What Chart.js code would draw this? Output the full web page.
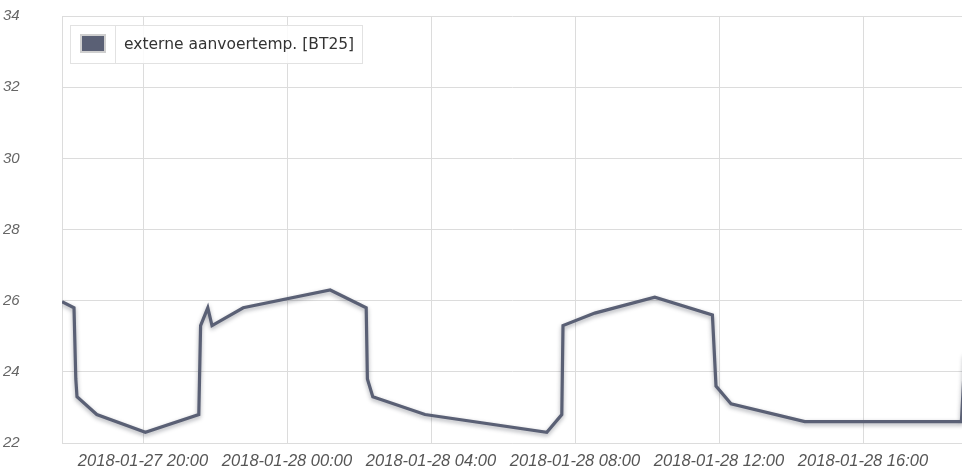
<!DOCTYPE html>
<html>
<head>
<meta charset="utf-8">
<script src="https://cdn.jsdelivr.net/npm/chart.js@4.4.0/dist/chart.umd.min.js"></script>
<style>
  html, body { margin: 0; padding: 0; background: #fff; }
  #wrap { width: 962px; height: 474px; position: relative; }
</style>
</head>
<body>
<div id="wrap"><canvas id="myChart"></canvas></div>
<script>
var seriesLabel = 'externe aanvoertemp. [BT25]';

// sample times and readings
var times = [
  '2018-01-27 17:45', '2018-01-27 18:05', '2018-01-27 18:08', '2018-01-27 18:10',
  '2018-01-27 18:43', '2018-01-27 20:04', '2018-01-27 21:33', '2018-01-27 21:36',
  '2018-01-27 21:48', '2018-01-27 21:55', '2018-01-27 22:47', '2018-01-28 01:12',
  '2018-01-28 02:12', '2018-01-28 02:14', '2018-01-28 02:23', '2018-01-28 03:50',
  '2018-01-28 07:13', '2018-01-28 07:38', '2018-01-28 07:40', '2018-01-28 08:33',
  '2018-01-28 10:13', '2018-01-28 11:49', '2018-01-28 11:55', '2018-01-28 12:20',
  '2018-01-28 14:23', '2018-01-28 18:44', '2018-01-28 18:50'
];
var values = [
  25.97, 25.8, 23.8, 23.3,
  22.8, 22.3, 22.8, 25.3,
  25.8, 25.3, 25.8, 26.3,
  25.8, 23.8, 23.3, 22.8,
  22.3, 22.8, 25.3, 25.65,
  26.1, 25.6, 23.6, 23.1,
  22.6, 22.6, 24.5
];

var xTickLabels = ['2018-01-27 20:00', '2018-01-28 00:00', '2018-01-28 04:00',
  '2018-01-28 08:00', '2018-01-28 12:00', '2018-01-28 16:00'];
var yTickValues = [22, 24, 26, 28, 30, 32, 34];
var xStart = '2018-01-27 17:45';
var xEnd = '2018-01-28 18:45';

// hours since 2018-01-27 00:00
function toHours(s) {
  var day = parseInt(s.slice(8, 10), 10) - 27;
  return day * 24 + parseInt(s.slice(11, 13), 10) + parseInt(s.slice(14, 16), 10) / 60;
}

var points = times.map(function (t, i) { return { x: toHours(t), y: values[i] }; });
var labelAt = {};
xTickLabels.forEach(function (l) { labelAt[toHours(l)] = l; });

var lineShadow = {
  id: 'lineShadow',
  beforeDatasetDraw: function (chart) {
    var c = chart.ctx;
    c.save();
    c.shadowColor = 'rgba(40, 45, 60, 0.4)';
    c.shadowBlur = 4;
    c.shadowOffsetY = 2;
  },
  afterDatasetDraw: function (chart) {
    chart.ctx.restore();
  }
};

// legend boxes drawn inside the plot area
var boxLegend = {
  id: 'boxLegend',
  afterDraw: function (chart) {
    var c = chart.ctx;
    var ds = chart.data.datasets[0];
    c.save();
    c.fillStyle = 'rgba(255,255,255,0.85)';
    c.fillRect(71, 26, 291, 37);
    c.strokeStyle = '#e2e2e2';
    c.lineWidth = 1;
    c.strokeRect(70.5, 25.5, 45, 38);
    c.strokeRect(115.5, 25.5, 247, 38);
    c.fillStyle = ds.borderColor;
    c.fillRect(81, 35, 24, 17);
    c.strokeStyle = '#cfcfcf';
    c.lineWidth = 2;
    c.strokeRect(81, 35, 24, 17);
    c.fillStyle = '#333';
    c.font = '15.5px "DejaVu Sans"';
    c.textBaseline = 'middle';
    c.fillText(ds.label, 124, 45);
    c.restore();
  }
};

var ctx = document.getElementById('myChart').getContext('2d');
var chart = new Chart(ctx, {
  type: 'line',
  data: {
    datasets: [
      {
        label: seriesLabel,
        data: points,
        borderColor: '#5a6075',
        borderWidth: 3.2,
        pointRadius: 0,
        tension: 0,
        fill: false
      }
    ]
  },
  options: {
    responsive: true,
    maintainAspectRatio: false,
    animation: false,
    layout: {
      padding: { left: 3, top: 16, right: 0, bottom: 0 }
    },
    plugins: {
      legend: { display: false },
      tooltip: { enabled: false }
    },
    scales: {
      x: {
        type: 'linear',
        min: toHours(xStart),
        max: toHours(xEnd),
        afterBuildTicks: function (s) {
          s.ticks = xTickLabels.map(function (l) { return { value: toHours(l) }; });
        },
        afterFit: function (s) { s.height = 31; },
        ticks: {
          autoSkip: false,
          maxRotation: 0,
          padding: 9,
          color: '#555',
          font: { family: "'Liberation Sans', Arial, sans-serif", size: 16.5, style: 'italic' },
          callback: function (v) { return labelAt[v] || ''; }
        },
        grid: { color: '#dcdcdc', drawTicks: false },
        border: { color: '#dcdcdc' }
      },
      y: {
        min: 22,
        max: 34,
        afterBuildTicks: function (s) {
          s.ticks = yTickValues.map(function (v) { return { value: v }; });
        },
        afterFit: function (s) { s.width = 59; },
        ticks: {
          crossAlign: 'far',
          color: '#666',
          font: { family: "'Liberation Sans', Arial, sans-serif", size: 15, style: 'italic' }
        },
        grid: { color: '#dcdcdc', drawTicks: false },
        border: { color: '#dcdcdc' }
      }
    }
  },
  plugins: [lineShadow, boxLegend]
});
</script>
</body>
</html>
